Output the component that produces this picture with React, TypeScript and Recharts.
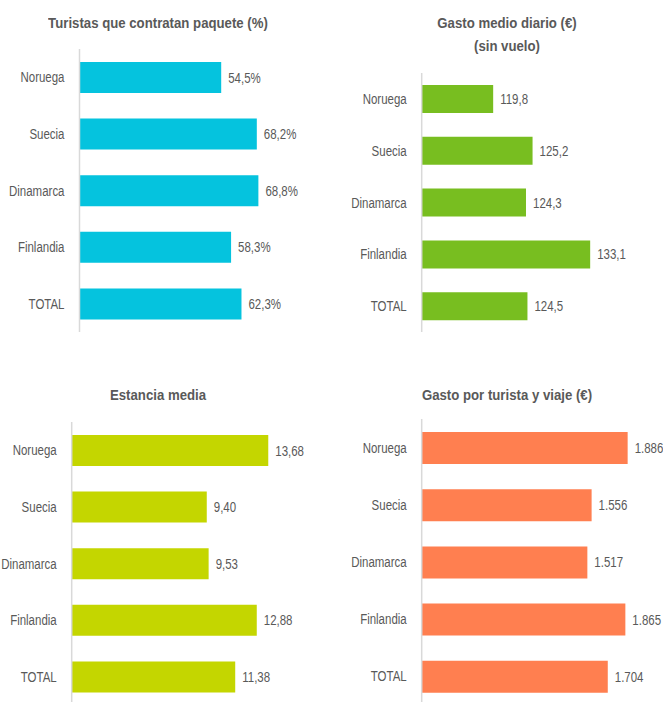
import { BarChart, Bar, XAxis, YAxis, LabelList } from 'recharts';

const FONT = '"Liberation Sans", Arial, sans-serif';
const TEXT = '#595959';
const AXIS = '#D9D9D9';
const SQUEEZE = 0.82; // narrow look of the original font

const countries = ['Noruega', 'Suecia', 'Dinamarca', 'Finlandia', 'TOTAL'];

const paquete = [54.5, 68.2, 68.8, 58.3, 62.3];
const gastoDiario = [119.8, 125.2, 124.3, 133.1, 124.5];
const estancia = [13.68, 9.4, 9.53, 12.88, 11.38];
const gastoViaje = [1886, 1556, 1517, 1865, 1704];

const toRows = (values: number[]) => countries.map((name, i) => ({ name, value: values[i] }));

const fmtPct = (v: any) => Number(v).toFixed(1).replace('.', ',') + '%';
const fmt1 = (v: any) => Number(v).toFixed(1).replace('.', ',');
const fmt2 = (v: any) => Number(v).toFixed(2).replace('.', ',');
const fmtThousands = (v: any) => Number(v).toLocaleString('de-DE');

function NarrowTick(props: any) {
    const { x, y, payload } = props;
    return (
        <g transform={`translate(${x},${y})`}>
            <text transform={`scale(${SQUEEZE},1)`} textAnchor="end" dy="0.36em" fill={TEXT} fontSize={14} fontFamily={FONT}>
                {payload.value}
            </text>
        </g>
    );
}

const narrowLabel = (format: (v: any) => string) => (props: any) => {
    const { x, y, width, height, value } = props;
    const lx = Number(x) + Number(width) + 7;
    const ly = Number(y) + Number(height) / 2;
    return (
        <g transform={`translate(${lx},${ly})`}>
            <text transform={`scale(${SQUEEZE},1)`} textAnchor="start" dy="0.36em" fill={TEXT} fontSize={14} fontFamily={FONT}>
                {format(value)}
            </text>
        </g>
    );
};

interface PanelProps {
    left: number;
    top: number;
    width: number;
    height: number;
    margin: { top: number; right: number; bottom: number; left: number };
    axisWidth: number;
    domain: [number, number];
    barSize: number;
    color: string;
    values: number[];
    format: (v: any) => string;
}

function Panel({ left, top, width, height, margin, axisWidth, domain, barSize, color, values, format }: PanelProps) {
    return (
        <div style={{ position: 'absolute', left, top }}>
            <BarChart width={width} height={height} data={toRows(values)} layout="vertical" margin={margin}>
                <XAxis type="number" domain={domain} hide allowDataOverflow />
                <YAxis
                    type="category"
                    dataKey="name"
                    width={axisWidth}
                    axisLine={{ stroke: AXIS, strokeWidth: 1.5 }}
                    tickLine={false}
                    tickMargin={9}
                    tick={<NarrowTick />}
                />
                <Bar dataKey="value" fill={color} barSize={barSize} isAnimationActive={false}>
                    <LabelList dataKey="value" content={narrowLabel(format)} />
                </Bar>
            </BarChart>
        </div>
    );
}

const titleStyle = (centerX: number, top: number): React.CSSProperties => ({
    position: 'absolute',
    left: centerX - 200,
    top,
    width: 400,
    textAlign: 'center',
    fontFamily: FONT,
    fontWeight: 'bold',
    fontSize: 15,
    lineHeight: '23px',
    color: TEXT,
    transform: 'scaleX(0.88)',
    transformOrigin: 'center',
});

export default function App() {
    return (
        <div style={{ position: 'absolute', left: 0, top: 0, width: 663, height: 702, overflow: 'hidden', background: '#fff' }}>
            <div style={titleStyle(158, 10.5)}>Turistas que contratan paquete (%)</div>
            <div style={titleStyle(507, 10.5)}>
                Gasto medio diario (€)<br />(sin vuelo)
            </div>
            <div style={titleStyle(158, 382.5)}>Estancia media</div>
            <div style={titleStyle(507, 382.5)}>Gasto por turista y viaje (€)</div>

            <Panel
                left={0} top={0} width={330} height={332}
                margin={{ top: 49, right: 16.5, bottom: 0, left: 0 }}
                axisWidth={79.5} domain={[0, 90]} barSize={31}
                color="#05C3DE" values={paquete} format={fmtPct}
            />
            <Panel
                left={330} top={0} width={333} height={332}
                margin={{ top: 73, right: 22.5, bottom: 0, left: 0 }}
                axisWidth={91.7} domain={[110, 140]} barSize={28}
                color="#78BE20" values={gastoDiario} format={fmt1}
            />
            <Panel
                left={0} top={370} width={330} height={335}
                margin={{ top: 52, right: 28.4, bottom: 0, left: 0 }}
                axisWidth={71.7} domain={[0, 16]} barSize={31}
                color="#C4D600" values={estancia} format={fmt2}
            />
            <Panel
                left={330} top={370} width={333} height={335}
                margin={{ top: 49, right: 22.9, bottom: 0, left: 0 }}
                axisWidth={91.7} domain={[0, 2000]} barSize={32}
                color="#FF7F50" values={gastoViaje} format={fmtThousands}
            />
        </div>
    );
}
